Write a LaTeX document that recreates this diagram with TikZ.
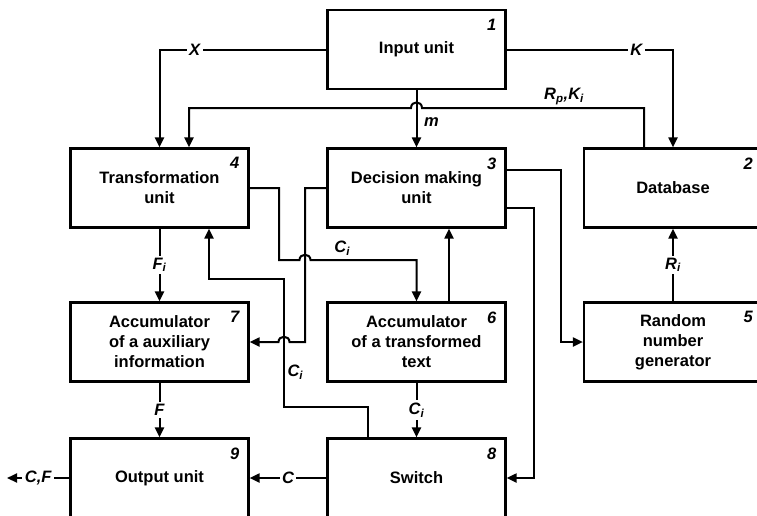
\documentclass[tikz,border=0pt]{standalone}
\usepackage{fontspec}
\setmainfont{Liberation Sans}
\usetikzlibrary{arrows.meta}
\begin{document}
\begin{tikzpicture}[x=1pt,y=-1pt,
  box/.style={draw, line width=2.2pt, minimum width=178pt, minimum height=79pt,
    align=center, inner sep=0pt, font=\fontsize{16.5}{20}\selectfont\bfseries},
  num/.style={anchor=north east, inner sep=0pt, font=\fontsize{16.5}{20}\selectfont\bfseries\itshape},
  wire/.style={line width=2pt},
  arr/.style={wire, -{Triangle[length=10pt,width=9pt]}},
  lbl/.style={inner sep=1.5pt, font=\fontsize{16.5}{20}\selectfont\bfseries\itshape},
  lab/.style={lbl, fill=white, inner sep=2.5pt}]
\useasboundingbox (0,0) rectangle (757,515);

% boxes
\node[box] (inp) at (416.5,49.5) {Input unit};
\node[box] (tr)  at (159.5,188) {Transformation\\unit};
\node[box] (dm)  at (416.5,188) {Decision making\\unit};
\node[box] (db)  at (673,188) {Database};
\node[box] (a7)  at (159.5,342) {Accumulator\\of a auxiliary\\information};
\node[box] (a6)  at (416.5,342) {Accumulator\\of a transformed\\text};
\node[box] (rng) at (673,342) {Random\\number\\generator};
\node[box] (out) at (159.5,478) {Output unit};
\node[box] (sw)  at (416.5,478) {Switch};

% numbers
\node[num] (n1) at ([xshift=-10pt,yshift=-10pt]inp.north east) {1};
\node[num] (n4) at ([xshift=-10pt,yshift=-10pt]tr.north east) {4};
\node[num] (n3) at ([xshift=-10pt,yshift=-10pt]dm.north east) {3};
\node[num] (n2) at ([xshift=-10pt,yshift=-10pt]db.north east) {2};
\node[num] (n7) at ([xshift=-10pt,yshift=-10pt]a7.north east) {7};
\node[num] (n6) at ([xshift=-10pt,yshift=-10pt]a6.north east) {6};
\node[num] (n5) at ([xshift=-10pt,yshift=-10pt]rng.north east) {5};
\node[num] (n9) at ([xshift=-10pt,yshift=-10pt]out.north east) {9};
\node[num] (n8) at ([xshift=-10pt,yshift=-10pt]sw.north east) {8};

% input connections
\draw[arr] (inp.west) -- node[lab,pos=0.79]{X} (inp.west -| tr.north) -- (tr.north);
\draw[arr] (inp.east) -- node[lab,pos=0.78]{K} (inp.east -| db.north) -- (db.north);
\draw[arr] (inp.south) -- node[lbl,right=5pt,pos=0.55]{m} (dm.north);

% database feedback R_p,K_i
\draw[arr] ([xshift=-29pt]db.north) -- (644,108)
  -- node[lbl,above=1pt,pos=0.36]{R\textsubscript{p},K\textsubscript{i}} (422,108)
  .. controls (422,100.5) and (411,100.5) .. (411,108)
  -- (189,108) -- ([xshift=29.5pt]tr.north);

% transformation -> accumulator 6
\draw[arr] (tr.east) -- (279,188) -- (279,260) -- (299.5,260)
  .. controls (299.5,253) and (310.5,253) .. (310.5,260)
  -- node[lbl,above=2pt,pos=0.3]{C\textsubscript{i}} (416.5,260) -- (a6.north);

% decision -> accumulator 7
\draw[arr] (dm.west) -- (305,188) -- (305,342) -- (289.5,342)
  .. controls (289.5,335) and (278.5,335) .. (278.5,342) -- (a7.east);

% switch -> transformation
\draw[arr] ([xshift=-48.5pt]sw.north) -- (368,407) -- (284,407)
  -- node[lbl,right=1pt,pos=0.27]{C\textsubscript{i}} (284,279)
  -- (209,279) -- ([xshift=49.5pt]tr.south);

% accumulator 6 -> decision
\draw[arr] ([xshift=32.5pt]a6.north) -- ([xshift=32.5pt]dm.south);

% decision -> random, decision -> switch
\draw[arr] ([yshift=18pt]dm.east) -- (561,170) -- (561,342) -- (rng.west);
\draw[arr] ([yshift=-20pt]dm.east) -- (534,208) -- (534,478) -- (sw.east);

% labelled straight connectors
\draw[arr] (tr.south) -- node[lab]{F\textsubscript{i}} (a7.north);
\draw[arr] (a7.south) -- node[lab]{F} (out.north);
\draw[arr] (a6.south) -- node[lab]{C\textsubscript{i}} (sw.north);
\draw[arr] (rng.north) -- node[lab]{R\textsubscript{i}} (db.south);
\draw[arr] (sw.west) -- node[lab]{C} (out.east);
\coordinate (cfout) at (7,478);
\draw[arr] (out.west) -- node[lab]{C,F} (cfout);
\end{tikzpicture}
\end{document}
